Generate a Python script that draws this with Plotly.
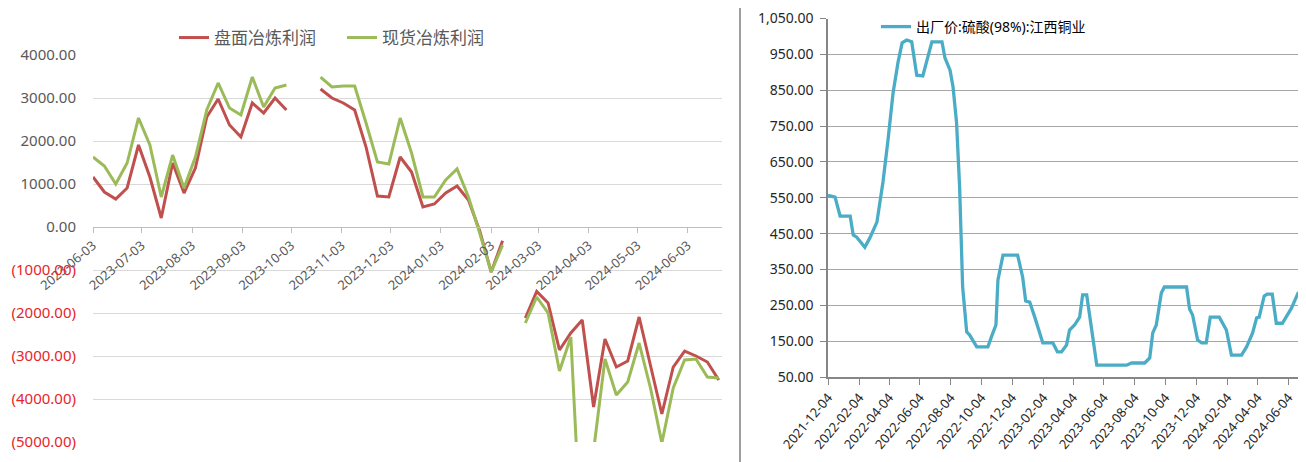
import plotly.graph_objects as go
import pandas as pd

W, H = 1306, 462
OFF = 8  # page body margin offset in the browser

# ---------------- Left chart data (weekly) ----------------
left_start = "2023-06-03"
futures_profit = [1163, 814, 651, 907, 1907, 1163, 209, 1488, 790, 1372, 2558, 2977, 2372, 2093,
                  2884, 2651, 3000, 2720, None, None, 3209, 3000, 2884, 2721, 1860, 721, 698, 1628,
                  1279, 465, 535, 790, 953, 628, -100, -1047, -320, None, -2116, -1500, -1767, -2860,
                  -2465, -2163, -4186, -2605, -3256, -3116, -2093, -3256, -4349, -3256, -2884, -3000,
                  -3140, -3558]
spot_profit = [1628, 1419, 1000, 1488, 2535, 1907, 698, 1674, 907, 1628, 2720, 3349, 2767, 2605,
               3488, 2790, 3233, 3302, None, None, 3488, 3256, 3279, 3279, 2419, 1512, 1465, 2535,
               1721, 698, 698, 1093, 1349, 698, -150, -1047, -420, None, -2233, -1628, -2000, -3349,
               -2558, -7800, -5200, -3070, -3907, -3605, -2698, -3744, -5023, -3744, -3093, -3070,
               -3488, -3512]
left_dates = pd.date_range(left_start, periods=len(futures_profit), freq="7D")
left_yticks = [-5000, -4000, -3000, -2000, -1000, 0, 1000, 2000, 3000, 4000]

# ---------------- Right chart data ----------------
acid_dates = ["2021-12-04", "2021-12-18", "2021-12-28", "2022-01-17", "2022-01-23", "2022-01-30",
              "2022-02-15", "2022-02-25", "2022-03-11", "2022-03-23", "2022-04-02", "2022-04-12",
              "2022-04-22", "2022-04-30", "2022-05-09", "2022-05-19", "2022-05-29", "2022-06-10",
              "2022-06-28", "2022-07-18", "2022-07-24", "2022-08-03", "2022-08-09", "2022-08-16",
              "2022-08-22", "2022-08-26", "2022-08-28", "2022-09-05", "2022-09-11", "2022-09-25",
              "2022-10-17", "2022-10-27", "2022-11-02", "2022-11-06", "2022-11-16", "2022-12-15",
              "2022-12-25", "2022-12-31", "2023-01-08", "2023-01-18", "2023-02-03", "2023-02-23",
              "2023-03-04", "2023-03-12", "2023-03-22", "2023-03-28", "2023-04-07", "2023-04-17",
              "2023-04-23", "2023-05-01", "2023-05-11", "2023-05-21", "2023-07-19", "2023-07-29",
              "2023-08-24", "2023-09-03", "2023-09-09", "2023-09-16", "2023-09-26", "2023-10-02",
              "2023-11-15", "2023-11-21", "2023-11-27", "2023-12-07", "2023-12-15", "2023-12-24",
              "2024-01-01", "2024-01-19", "2024-02-02", "2024-02-12", "2024-03-03", "2024-03-13",
              "2024-03-25", "2024-04-02", "2024-04-07", "2024-04-17", "2024-04-23", "2024-05-03",
              "2024-05-11", "2024-05-23", "2024-06-10", "2024-06-24"]
acid_price = [557, 552, 499, 499, 446, 440, 412, 438, 482, 594, 711, 842, 929, 982, 990, 985, 892,
              890, 985, 985, 940, 906, 859, 758, 580, 432, 301, 176, 167, 134, 134, 173, 195, 321,
              390, 390, 329, 262, 259, 217, 145, 145, 120, 120, 139, 181, 195, 217, 279, 279, 173,
              83, 83, 89, 89, 103, 173, 195, 284, 301, 301, 240, 223, 153, 145, 145, 217, 217, 181,
              111, 111, 134, 173, 215, 217, 276, 281, 281, 200, 200, 242, 287]
right_yticks = [50, 150, 250, 350, 450, 550, 650, 750, 850, 950, 1050]

RED = "#C0504D"
GREEN = "#9BBB59"
TEAL = "#4BACC6"
GRAYTXT = "#595959"
NEG = "#E8252B"
FONT = "Noto Sans, Noto Sans CJK SC, sans-serif"


def fmt_left(v):
    if v < 0:
        return f"<span style='color:{NEG}'>({abs(v):.2f})</span>"
    return f"{v:.2f}"


def px_x(p):
    return (p - OFF) / W


def px_y(p):
    return 1 - (p - OFF) / H


fig = go.Figure()
fig.add_trace(go.Scatter(x=left_dates, y=futures_profit, mode="lines", name="盘面冶炼利润",
                         line=dict(color=RED, width=3), xaxis="x", yaxis="y", legend="legend"))
fig.add_trace(go.Scatter(x=left_dates, y=spot_profit, mode="lines", name="现货冶炼利润",
                         line=dict(color=GREEN, width=3), xaxis="x", yaxis="y", legend="legend"))
fig.add_trace(go.Scatter(x=acid_dates, y=acid_price, mode="lines", name="出厂价:硫酸(98%):江西铜业",
                         line=dict(color=TEAL, width=3.3), xaxis="x2", yaxis="y2", legend="legend2"))

fig.update_layout(
    width=W, height=H,
    margin=dict(l=0, r=0, t=0, b=0, autoexpand=False),
    paper_bgcolor="white", plot_bgcolor="white",
    font=dict(family=FONT, color=GRAYTXT),
    xaxis=dict(
        domain=[px_x(93), px_x(722)], automargin=False,
        anchor="free", position=px_y(227),
        type="date", range=["2023-06-03", "2024-06-24"],
        tick0="2023-06-03", dtick="M1", tickformat="%Y-%m-%d",
        tickangle=-40, tickfont=dict(size=13, color=GRAYTXT),
        showline=True, linecolor="#BFBFBF", linewidth=1,
        ticks="outside", ticklen=5, tickcolor="#BFBFBF",
        showgrid=False, zeroline=False,
    ),
    yaxis=dict(
        domain=[px_y(442), px_y(55)], automargin=False,
        anchor="x", range=[-5000, 4000],
        tickvals=left_yticks, ticktext=[fmt_left(v) for v in left_yticks],
        tickfont=dict(size=15, color=GRAYTXT),
        showgrid=True, gridcolor="#D9D9D9", gridwidth=1,
        zeroline=False, showline=False, ticks="", ticklabelstandoff=16,
    ),
    xaxis2=dict(
        domain=[px_x(828), px_x(1299)], automargin=False,
        anchor="y2", type="date", range=["2021-12-04", "2024-06-25"],
        tick0="2021-12-04", dtick="M2", tickformat="%Y-%m-%d",
        tickangle=-50, tickfont=dict(size=13, color="#262626"),
        showline=True, linecolor="#868686", linewidth=1.5,
        ticks="outside", ticklen=6, tickcolor="#868686",
        showgrid=False, zeroline=False,
    ),
    yaxis2=dict(
        domain=[px_y(377), px_y(18.5)], automargin=False,
        anchor="x2", range=[50, 1050],
        tickvals=right_yticks, tickformat=",.2f",
        tickfont=dict(size=14, color="#262626"),
        showgrid=True, gridcolor="#A6A6A6", gridwidth=1.3,
        zeroline=False, showline=True, linecolor="#868686", linewidth=1.5,
        ticks="outside", ticklen=6, tickcolor="#868686", ticklabelstandoff=4,
    ),
    legend=dict(
        orientation="h", x=px_x(174), y=px_y(38), xanchor="left", yanchor="middle",
        font=dict(size=17, color=GRAYTXT), bgcolor="rgba(0,0,0,0)",
        entrywidth=123, entrywidthmode="pixels",
    ),
    legend2=dict(
        orientation="h", x=px_x(876), y=px_y(27), xanchor="left", yanchor="middle",
        font=dict(size=14, color="#000000"), bgcolor="rgba(0,0,0,0)",
    ),
    shapes=[dict(type="line", xref="paper", yref="paper", x0=px_x(740), x1=px_x(740),
                 y0=0, y1=1, line=dict(color="#7F7F7F", width=1.5))],
)

fig.write_html("out.html")
